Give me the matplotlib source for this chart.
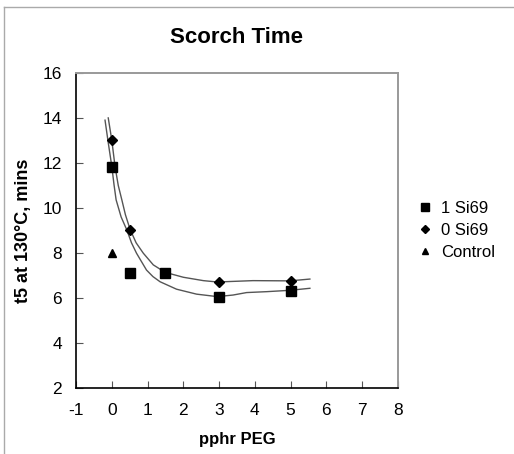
import matplotlib.pyplot as plt
from matplotlib.lines import Line2D

# measured points
pphr_1si = [0, 0.5, 1.5, 3, 5]
t5_1si = [11.8, 7.1, 7.1, 6.05, 6.3]

pphr_0si = [0, 0.5, 1.5, 3, 5]
t5_0si = [13.0, 9.0, 7.1, 6.7, 6.75]

pphr_ctrl = [0]
t5_ctrl = [8.0]

# trend lines
fit0_x = [-0.10, -0.05, 0.0, 0.09, 0.18, 0.28, 0.38, 0.51, 0.68, 0.88, 1.16, 1.49, 2.0, 2.56, 2.95, 3.95, 4.98, 5.54]
fit0_y = [14.0, 13.5, 13.0, 11.84, 11.0, 10.36, 9.7, 9.05, 8.45, 7.99, 7.47, 7.14, 6.92, 6.77, 6.71, 6.77, 6.76, 6.84]
fit1_x = [-0.19, -0.10, 0.0, 0.06, 0.12, 0.26, 0.42, 0.55, 0.69, 0.97, 1.15, 1.35, 1.81, 2.37, 2.95, 3.39, 3.77, 4.33, 4.98, 5.54]
fit1_y = [13.9, 12.9, 11.84, 11.05, 10.36, 9.6, 9.02, 8.45, 7.99, 7.24, 6.95, 6.72, 6.39, 6.17, 6.06, 6.13, 6.24, 6.28, 6.34, 6.43]

plt.rcParams['font.family'] = ['Liberation Sans', 'DejaVu Sans']
plt.rcParams['axes.unicode_minus'] = False

fig = plt.figure(figsize=(5.14, 4.54), dpi=100)
ax = fig.add_axes([0.148, 0.1454, 0.626, 0.694])

ax.plot(fit0_x, fit0_y, color='#555555', lw=1.0)
ax.plot(fit1_x, fit1_y, color='#555555', lw=1.0)

ax.plot(pphr_1si, t5_1si, 's', color='black', ms=7, ls='none', label='1 Si69')
ax.plot(pphr_0si, t5_0si, 'D', color='black', ms=5, ls='none', label='0 Si69')
ax.plot(pphr_ctrl, t5_ctrl, '^', color='black', ms=5.5, ls='none', label='Control')

ax.set_xlim(-1, 8)
ax.set_ylim(2, 16)
ax.set_xticks(range(-1, 9))
ax.set_yticks(range(2, 17, 2))
ax.tick_params(direction='in', length=5, width=0.8, color='#555555', labelsize=12.5)
ax.tick_params(axis='x', pad=11)
ax.tick_params(axis='y', pad=10)

ax.spines['left'].set_color('black')
ax.spines['bottom'].set_color('black')
ax.spines['left'].set_linewidth(1.2)
ax.spines['bottom'].set_linewidth(1.2)
ax.spines['top'].set_color('#999999')
ax.spines['right'].set_color('#999999')
ax.spines['top'].set_linewidth(1.4)
ax.spines['right'].set_linewidth(1.4)

ax.set_xlabel('pphr PEG', fontsize=12, fontweight='bold', labelpad=10)
ax.set_ylabel('t5 at 130°C, mins', fontsize=13, fontweight='bold', labelpad=8)
fig.text(0.461, 0.918, 'Scorch Time', ha='center', va='center', fontsize=16, fontweight='bold')

leg = ax.legend(loc='center left', bbox_to_anchor=(1.04, 0.50), frameon=False, fontsize=12,
                handletextpad=0.5, handlelength=0.9, labelspacing=0.4, borderaxespad=0,
                markerscale=0.85)

# outer frame (top and left only)
fig.add_artist(Line2D([0.008, 1.0], [0.985, 0.985], color='#aaaaaa', lw=1.0, transform=fig.transFigure))
fig.add_artist(Line2D([0.008, 0.008], [0.0, 0.985], color='#aaaaaa', lw=1.0, transform=fig.transFigure))

fig.savefig('out.png', dpi=100)
